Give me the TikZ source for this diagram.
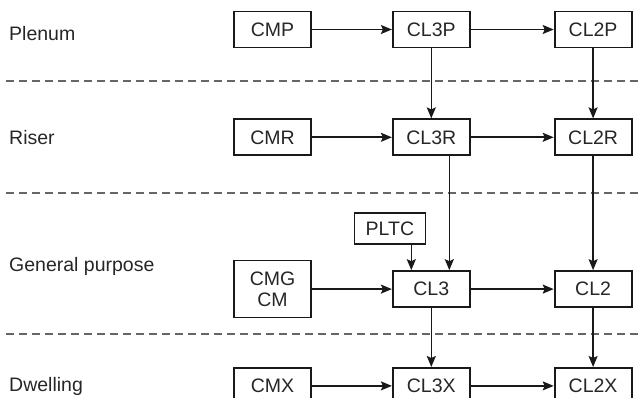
\documentclass[tikz,border=0pt]{standalone}
\usepackage{fontspec}
\setmainfont{Liberation Sans}
\usetikzlibrary{positioning,arrows.meta}

\begin{document}
\begin{tikzpicture}[x=1pt, y=1pt,
  font=\fontsize{19.5}{20.5}\selectfont,
  box/.style={draw=black!90, line width=1.8pt, rectangle, minimum width=77pt, minimum height=36pt, inner sep=0pt, align=center, text=black!85},
  arr/.style={draw=black!90, line width=1.6pt, -{Stealth[length=11pt, width=9pt, inset=2pt]}},
  sep/.style={draw=black!60, line width=1.5pt, dash pattern=on 8pt off 5pt},
  lbl/.style={anchor=base west, inner sep=0pt, text=black!85}]
  \useasboundingbox (0,0) rectangle (641,-398);

  % row labels
  \node[lbl] (plenum) at (9,-41) {Plenum};
  \node[lbl] (riser) at (9,-145) {Riser};
  \node[lbl] (general) at (9,-272) {General purpose};
  \node[lbl] (dwelling) at (9,-392) {Dwelling};

  % separators
  \draw[sep] (6,-81) -- (641,-81);
  \draw[sep] (6,-193) -- (641,-193);
  \draw[sep] (6,-334) -- (641,-334);

  % cable boxes
  \node[box] (cmp) at (272.5,-29.5) {CMP};
  \node[box, right=80pt of cmp] (cl3p) {CL3P};
  \node[box, right=83pt of cl3p] (cl2p) {CL2P};
  \node[box, below=70pt of cmp] (cmr) {CMR};
  \node[box, right=80pt of cmr] (cl3r) {CL3R};
  \node[box, right=83pt of cl3r] (cl2r) {CL2R};
  \node[box, below=114pt of cl3r] (cl3) {CL3};
  \node[box, minimum height=57pt, left=80pt of cl3] (cmg) {CMG\\CM};
  \node[box, right=83pt of cl3] (cl2) {CL2};
  \node[box, minimum width=71pt, minimum height=31pt, above left=25pt and 5pt of cl3.north] (pltc) {PLTC};
  \node[box, below=59pt of cl3] (cl3x) {CL3X};
  \node[box, left=80pt of cl3x] (cmx) {CMX};
  \node[box, right=83pt of cl3x] (cl2x) {CL2X};

  \coordinate (pltcin) at ([xshift=-20pt]cl3.north);

  % substitutions
  \draw[arr] (cmp) -- (cl3p);
  \draw[arr] (cl3p) -- (cl2p);
  \draw[arr] (cl3p) -- (cl3r);
  \draw[arr] (cl2p) -- (cl2r);
  \draw[arr] (cmr) -- (cl3r);
  \draw[arr] (cl3r) -- (cl2r);
  \draw[arr] ([xshift=18pt]cl3r.south) -- ([xshift=18pt]cl3.north);
  \draw[arr] (cl2r) -- (cl2);
  \draw[arr] (pltcin |- pltc.south) -- (pltcin);
  \draw[arr] (cmg) -- (cl3);
  \draw[arr] (cl3) -- (cl2);
  \draw[arr] (cl3) -- (cl3x);
  \draw[arr] (cl2) -- (cl2x);
  \draw[arr] (cmx) -- (cl3x);
  \draw[arr] (cl3x) -- (cl2x);
\end{tikzpicture}
\end{document}
